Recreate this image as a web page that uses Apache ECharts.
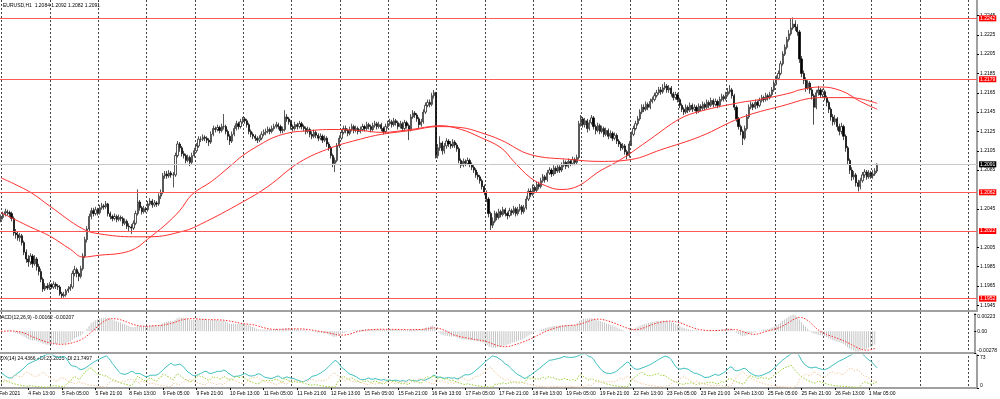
<!DOCTYPE html>
<html><head><meta charset="utf-8">
<script src="https://cdn.jsdelivr.net/npm/echarts@6/dist/echarts.min.js"></script>
<style>html,body{margin:0;padding:0;background:#fff}#c{width:1000px;height:399px}</style>
</head><body><div id="c"></div>
<script>
// ---------- data ----------
const firstOpen = 1.2034;
const closes = [
1.2036,1.2039,1.2042,1.2041,1.2040,1.2035,1.2020,1.2018,1.2015,1.2017,
1.2010,1.2000,1.1993,1.1990,1.1996,1.1988,1.1993,1.1985,1.1980,1.1972,
1.1962,1.1965,1.1963,1.1966,1.1964,1.1967,1.1965,1.1964,1.1957,1.1955,
1.1956,1.1960,1.1962,1.1964,1.1978,1.1982,1.1978,1.1975,1.1983,1.1996,
1.2013,1.2024,1.2037,1.2043,1.2040,1.2044,1.2041,1.2046,1.2048,1.2047,
1.2050,1.2040,1.2037,1.2035,1.2037,1.2034,1.2036,1.2035,1.2030,1.2032,
1.2027,1.2026,1.2025,1.2030,1.2040,1.2052,1.2046,1.2042,1.2045,1.2044,
1.2050,1.2053,1.2049,1.2051,1.2050,1.2058,1.2062,1.2079,1.2081,1.2079,
1.2082,1.2080,1.2080,1.2100,1.2112,1.2108,1.2102,1.2100,1.2095,1.2098,
1.2093,1.2100,1.2105,1.2110,1.2117,1.2117,1.2119,1.2118,1.2116,1.2114,
1.2122,1.2128,1.2127,1.2129,1.2126,1.2130,1.2130,1.2125,1.2120,1.2115,
1.2122,1.2128,1.2133,1.2130,1.2135,1.2138,1.2136,1.2132,1.2125,1.2122,
1.2120,1.2118,1.2116,1.2118,1.2122,1.2124,1.2125,1.2127,1.2125,1.2128,
1.2130,1.2132,1.2130,1.2126,1.2127,1.2140,1.2138,1.2135,1.2130,1.2128,
1.2132,1.2130,1.2133,1.2130,1.2128,1.2125,1.2127,1.2122,1.2120,1.2124,
1.2121,1.2118,1.2120,1.2116,1.2118,1.2112,1.2108,1.2100,1.2092,1.2095,
1.2110,1.2118,1.2124,1.2128,1.2126,1.2123,1.2127,1.2130,1.2126,1.2128,
1.2125,1.2127,1.2130,1.2128,1.2132,1.2130,1.2127,1.2131,1.2133,1.2130,
1.2132,1.2128,1.2125,1.2130,1.2133,1.2135,1.2132,1.2136,1.2134,1.2130,
1.2133,1.2128,1.2134,1.2131,1.2127,1.2140,1.2144,1.2142,1.2138,1.2132,
1.2135,1.2145,1.2152,1.2155,1.2153,1.2162,1.2165,1.2100,1.2108,1.2113,
1.2105,1.2110,1.2115,1.2112,1.2110,1.2114,1.2111,1.2107,1.2095,1.2090,
1.2094,1.2092,1.2095,1.2091,1.2088,1.2085,1.2080,1.2078,1.2074,1.2068,
1.2062,1.2055,1.2040,1.2028,1.2032,1.2040,1.2036,1.2042,1.2039,1.2044,
1.2040,1.2038,1.2043,1.2041,1.2045,1.2040,1.2044,1.2047,1.2042,1.2046,
1.2055,1.2063,1.2060,1.2067,1.2064,1.2070,1.2068,1.2074,1.2078,1.2075,
1.2082,1.2085,1.2081,1.2087,1.2084,1.2088,1.2085,1.2090,1.2093,1.2089,
1.2094,1.2092,1.2096,1.2093,1.2098,1.2133,1.2138,1.2132,1.2136,1.2128,
1.2134,1.2139,1.2130,1.2126,1.2131,1.2125,1.2128,1.2122,1.2126,1.2120,
1.2123,1.2118,1.2121,1.2115,1.2112,1.2108,1.2110,1.2104,1.2100,1.2112,
1.2122,1.2128,1.2133,1.2138,1.2145,1.2150,1.2148,1.2153,1.2150,1.2156,
1.2158,1.2162,1.2165,1.2168,1.2166,1.2170,1.2172,1.2168,1.2170,1.2164,
1.2160,1.2163,1.2158,1.2152,1.2148,1.2145,1.2150,1.2147,1.2152,1.2148,
1.2150,1.2146,1.2151,1.2149,1.2153,1.2150,1.2155,1.2152,1.2157,1.2153,
1.2156,1.2152,1.2158,1.2161,1.2159,1.2163,1.2166,1.2168,1.2162,1.2150,
1.2138,1.2130,1.2125,1.2118,1.2128,1.2140,1.2150,1.2153,1.2150,1.2155,
1.2152,1.2157,1.2160,1.2158,1.2162,1.2160,1.2163,1.2168,1.2175,1.2180,
1.2185,1.2195,1.2205,1.2212,1.2220,1.2226,1.2232,1.2236,1.2233,1.2228,
1.2200,1.2185,1.2178,1.2170,1.2175,1.2168,1.2162,1.2150,1.2165,1.2168,
1.2163,1.2166,1.2160,1.2155,1.2148,1.2140,1.2135,1.2138,1.2130,1.2125,
1.2130,1.2120,1.2108,1.2095,1.2085,1.2078,1.2080,1.2072,1.2068,1.2074,
1.2080,1.2083,1.2078,1.2082,1.2079,1.2081,1.2084,1.2091];
const highs = [
1.2039,1.2042,1.2045,1.2044,1.2043,1.2042,1.2037,1.2024,1.2021,1.2020,
1.2019,1.2012,1.2003,1.1997,1.1999,1.1998,1.1997,1.1995,1.1988,1.1983,
1.1974,1.1968,1.1968,1.1969,1.1968,1.1970,1.1969,1.1967,1.1966,1.1959,
1.1959,1.1962,1.1965,1.1967,1.1981,1.1986,1.1984,1.1980,1.1986,1.1999,
1.2016,1.2027,1.2040,1.2046,1.2046,1.2047,1.2046,1.2049,1.2051,1.2050,
1.2053,1.2051,1.2042,1.2039,1.2040,1.2039,1.2039,1.2038,1.2037,1.2035,
1.2034,1.2030,1.2029,1.2033,1.2043,1.2065,1.2054,1.2048,1.2048,1.2047,
1.2053,1.2056,1.2055,1.2054,1.2053,1.2061,1.2065,1.2082,1.2084,1.2084,
1.2085,1.2084,1.2083,1.2103,1.2115,1.2114,1.2110,1.2105,1.2102,1.2101,
1.2100,1.2103,1.2108,1.2113,1.2120,1.2120,1.2122,1.2121,1.2120,1.2118,
1.2125,1.2131,1.2130,1.2132,1.2131,1.2133,1.2143,1.2132,1.2127,1.2122,
1.2125,1.2131,1.2136,1.2135,1.2138,1.2140,1.2140,1.2138,1.2134,1.2127,
1.2124,1.2122,1.2120,1.2121,1.2125,1.2127,1.2128,1.2130,1.2129,1.2131,
1.2133,1.2135,1.2134,1.2132,1.2130,1.2147,1.2143,1.2140,1.2137,1.2132,
1.2135,1.2134,1.2136,1.2135,1.2132,1.2130,1.2130,1.2129,1.2125,1.2127,
1.2126,1.2123,1.2123,1.2122,1.2121,1.2120,1.2114,1.2110,1.2102,1.2098,
1.2113,1.2121,1.2127,1.2131,1.2131,1.2128,1.2130,1.2133,1.2132,1.2131,
1.2130,1.2130,1.2133,1.2132,1.2135,1.2134,1.2132,1.2134,1.2136,1.2135,
1.2135,1.2134,1.2130,1.2133,1.2136,1.2138,1.2137,1.2139,1.2138,1.2136,
1.2136,1.2135,1.2137,1.2136,1.2133,1.2143,1.2147,1.2146,1.2144,1.2140,
1.2138,1.2148,1.2155,1.2158,1.2158,1.2165,1.2168,1.2166,1.2112,1.2120,
1.2115,1.2113,1.2118,1.2117,1.2115,1.2117,1.2116,1.2113,1.2109,1.2097,
1.2097,1.2096,1.2098,1.2097,1.2093,1.2090,1.2087,1.2083,1.2080,1.2076,
1.2070,1.2064,1.2057,1.2042,1.2036,1.2043,1.2042,1.2045,1.2044,1.2047,
1.2046,1.2042,1.2046,1.2045,1.2048,1.2047,1.2047,1.2050,1.2049,1.2049,
1.2058,1.2066,1.2066,1.2070,1.2069,1.2073,1.2073,1.2077,1.2081,1.2080,
1.2085,1.2088,1.2087,1.2090,1.2089,1.2091,1.2090,1.2093,1.2096,1.2095,
1.2097,1.2096,1.2099,1.2098,1.2101,1.2136,1.2142,1.2140,1.2139,1.2138,
1.2137,1.2142,1.2141,1.2132,1.2134,1.2133,1.2131,1.2130,1.2129,1.2128,
1.2126,1.2125,1.2124,1.2123,1.2117,1.2114,1.2113,1.2112,1.2106,1.2115,
1.2125,1.2131,1.2136,1.2141,1.2148,1.2153,1.2153,1.2156,1.2155,1.2159,
1.2161,1.2165,1.2168,1.2171,1.2171,1.2174,1.2176,1.2174,1.2173,1.2172,
1.2166,1.2166,1.2165,1.2160,1.2154,1.2150,1.2153,1.2152,1.2155,1.2154,
1.2153,1.2152,1.2154,1.2153,1.2156,1.2155,1.2158,1.2157,1.2160,1.2159,
1.2159,1.2158,1.2161,1.2164,1.2163,1.2166,1.2170,1.2173,1.2170,1.2164,
1.2152,1.2140,1.2132,1.2127,1.2131,1.2143,1.2153,1.2156,1.2155,1.2158,
1.2157,1.2160,1.2163,1.2162,1.2165,1.2164,1.2166,1.2171,1.2178,1.2183,
1.2188,1.2198,1.2208,1.2215,1.2223,1.2230,1.2242,1.2243,1.2240,1.2236,
1.2230,1.2203,1.2188,1.2181,1.2178,1.2177,1.2170,1.2164,1.2168,1.2172,
1.2170,1.2169,1.2168,1.2162,1.2157,1.2150,1.2143,1.2142,1.2140,1.2133,
1.2134,1.2132,1.2122,1.2110,1.2097,1.2088,1.2084,1.2082,1.2075,1.2077,
1.2083,1.2086,1.2085,1.2085,1.2084,1.2085,1.2087,1.2092];
const lows = [
1.2031,1.2034,1.2037,1.2038,1.2036,1.2032,1.2017,1.2014,1.2012,1.2011,
1.2007,1.1997,1.1989,1.1985,1.1987,1.1984,1.1986,1.1981,1.1976,1.1969,
1.1959,1.1960,1.1961,1.1961,1.1962,1.1962,1.1962,1.1961,1.1955,1.1952,
1.1953,1.1954,1.1958,1.1960,1.1962,1.1975,1.1974,1.1970,1.1973,1.1981,
1.1994,1.2010,1.2021,1.2034,1.2037,1.2038,1.2038,1.2039,1.2044,1.2044,
1.2045,1.2037,1.2034,1.2032,1.2033,1.2031,1.2032,1.2032,1.2027,1.2028,
1.2024,1.2022,1.2019,1.2023,1.2028,1.2038,1.2043,1.2039,1.2040,1.2041,
1.2042,1.2048,1.2046,1.2047,1.2047,1.2048,1.2055,1.2060,1.2076,1.2076,
1.2077,1.2077,1.2067,1.2078,1.2098,1.2104,1.2099,1.2097,1.2092,1.2093,
1.2089,1.2091,1.2098,1.2103,1.2108,1.2114,1.2115,1.2115,1.2113,1.2110,
1.2112,1.2120,1.2124,1.2125,1.2123,1.2124,1.2127,1.2122,1.2116,1.2111,
1.2113,1.2120,1.2126,1.2127,1.2128,1.2133,1.2133,1.2129,1.2122,1.2119,
1.2117,1.2115,1.2113,1.2114,1.2116,1.2120,1.2121,1.2123,1.2122,1.2123,
1.2126,1.2128,1.2127,1.2123,1.2123,1.2125,1.2135,1.2132,1.2127,1.2125,
1.2126,1.2127,1.2128,1.2127,1.2125,1.2122,1.2123,1.2119,1.2117,1.2118,
1.2118,1.2115,1.2116,1.2113,1.2114,1.2109,1.2105,1.2097,1.2088,1.2083,
1.2093,1.2108,1.2116,1.2122,1.2123,1.2120,1.2121,1.2125,1.2123,1.2124,
1.2122,1.2123,1.2125,1.2125,1.2126,1.2127,1.2124,1.2125,1.2129,1.2127,
1.2128,1.2125,1.2122,1.2123,1.2128,1.2131,1.2129,1.2130,1.2131,1.2127,
1.2128,1.2125,1.2126,1.2128,1.2116,1.2125,1.2138,1.2139,1.2135,1.2128,
1.2130,1.2133,1.2143,1.2150,1.2150,1.2151,1.2159,1.2097,1.2097,1.2105,
1.2101,1.2102,1.2107,1.2109,1.2107,1.2108,1.2108,1.2104,1.2092,1.2087,
1.2088,1.2089,1.2090,1.2088,1.2085,1.2082,1.2077,1.2075,1.2071,1.2065,
1.2059,1.2052,1.2036,1.2023,1.2025,1.2030,1.2033,1.2034,1.2036,1.2037,
1.2037,1.2034,1.2036,1.2038,1.2039,1.2037,1.2038,1.2042,1.2039,1.2040,
1.2044,1.2053,1.2057,1.2058,1.2061,1.2062,1.2065,1.2066,1.2072,1.2072,
1.2073,1.2080,1.2078,1.2079,1.2081,1.2082,1.2082,1.2083,1.2088,1.2086,
1.2087,1.2089,1.2090,1.2090,1.2091,1.2096,1.2130,1.2129,1.2129,1.2124,
1.2126,1.2132,1.2127,1.2122,1.2124,1.2122,1.2123,1.2119,1.2120,1.2117,
1.2118,1.2115,1.2116,1.2112,1.2109,1.2105,1.2106,1.2101,1.2096,1.2098,
1.2110,1.2120,1.2126,1.2131,1.2136,1.2143,1.2145,1.2146,1.2147,1.2148,
1.2154,1.2156,1.2160,1.2163,1.2163,1.2164,1.2168,1.2165,1.2165,1.2161,
1.2157,1.2158,1.2155,1.2149,1.2145,1.2142,1.2143,1.2144,1.2145,1.2145,
1.2146,1.2143,1.2144,1.2146,1.2147,1.2147,1.2148,1.2149,1.2150,1.2150,
1.2151,1.2149,1.2150,1.2156,1.2156,1.2157,1.2161,1.2164,1.2159,1.2147,
1.2135,1.2127,1.2121,1.2111,1.2116,1.2126,1.2138,1.2148,1.2147,1.2148,
1.2149,1.2150,1.2155,1.2155,1.2156,1.2157,1.2158,1.2161,1.2166,1.2173,
1.2178,1.2183,1.2193,1.2203,1.2210,1.2218,1.2224,1.2230,1.2229,1.2224,
1.2196,1.2181,1.2174,1.2166,1.2168,1.2164,1.2158,1.2132,1.2148,1.2162,
1.2160,1.2160,1.2157,1.2151,1.2144,1.2136,1.2131,1.2132,1.2126,1.2121,
1.2122,1.2116,1.2104,1.2091,1.2081,1.2074,1.2075,1.2068,1.2063,1.2065,
1.2072,1.2077,1.2075,1.2076,1.2076,1.2076,1.2079,1.2082];

// moving averages: [bar index, value]
const maFast = [[0,1.2041],[14,1.2026],[23,1.2017],[33,1.2003],[39,1.1995],[47,1.1997],[57,1.1999],[64,1.2004],[70,1.2014],[78,1.2028],[85,1.2043],[91,1.2060],[100,1.2073],[109,1.2089],[115,1.2100],[123,1.2111],[130,1.2119],[138,1.2124],[142,1.2125],[157,1.2127],[171,1.2126],[181,1.2124],[195,1.2127],[204,1.2130],[209,1.2131],[219,1.2127],[228,1.2119],[238,1.2108],[244,1.2094],[252,1.2077],[259,1.2069],[266,1.2065],[273,1.2067],[285,1.2084],[295,1.2096],[309,1.2117],[323,1.2138],[333,1.2146],[352,1.2155],[361,1.2158],[376,1.2165],[380,1.2168],[390,1.2171],[400,1.2167],[409,1.2156],[417,1.2148]];
const maSlow = [[0,1.2077],[14,1.2062],[23,1.2048],[39,1.2024],[47,1.2019],[63,1.2016],[71,1.2016],[87,1.2022],[95,1.2029],[115,1.2052],[127,1.2068],[142,1.2093],[157,1.2108],[171,1.2117],[181,1.2122],[195,1.2126],[208,1.2130],[219,1.2129],[228,1.2124],[238,1.2116],[252,1.2101],[271,1.2096],[285,1.2094],[300,1.2096],[314,1.2106],[333,1.2120],[352,1.2139],[371,1.2151],[390,1.2160],[404,1.2160],[417,1.2154]];

// indicator starting states read at the left edge (warm-up seeds)
const adxSeed = { adx: 33, plusDi: 12, minusDi: 25 };

const levels = [1.2242, 1.2179, 1.2062, 1.2022, 1.1952];
const bidPrice = 1.2091;
const priceTicks = [1.1945,1.1965,1.1985,1.2005,1.2045,1.2085,1.2105,1.2125,1.2145,1.2165,1.2185,1.2205,1.2225,1.2245];
const macdRange = [-0.00278, 0.00223];
const adxRange = [0, 73];
const timeLabels = ["4 Feb 13:00","5 Feb 05:00","5 Feb 21:00","8 Feb 13:00","9 Feb 05:00","9 Feb 21:00","10 Feb 13:00","11 Feb 05:00","11 Feb 21:00","12 Feb 13:00","15 Feb 05:00","15 Feb 21:00","16 Feb 13:00","17 Feb 05:00","17 Feb 21:00","18 Feb 13:00","19 Feb 05:00","19 Feb 21:00","22 Feb 13:00","23 Feb 05:00","23 Feb 21:00","24 Feb 13:00","25 Feb 05:00","25 Feb 21:00","26 Feb 13:00","1 Mar 05:00"];
const firstDateLabel = "4 Feb 2021";
const headerText = "EURUSD,H1  1.2084 1.2092 1.2082 1.2091";
const macdText = "MACD(12,26,9) -0.00162 -0.00207";
const adxText = "ADX(14) 24.4366 +DI:23.2035 -DI:21.7497";

// ---------- build tables ----------
const SLOTS = 465; // bars + empty right margin (chart shift)
const MONTHS = ["Jan","Feb","Mar"];
const cats = [];
{
  let t = Date.UTC(2021, 1, 4, 0);
  while (cats.length < SLOTS) {
    const d = new Date(t);
    const wd = d.getUTCDay();
    if (wd !== 0 && wd !== 6) {
      cats.push(d.getUTCDate() + " " + MONTHS[d.getUTCMonth()] + " " + String(d.getUTCHours()).padStart(2, "0") + ":00");
    }
    t += 3600000;
  }
}
const candles = closes.map((c, i) => [i === 0 ? firstOpen : closes[i - 1], c, lows[i], highs[i]]);

const ema = (a, p, seed) => { const k = 2 / (p + 1); let e = seed === undefined ? a[0] : seed; return a.map((v, i) => (e = (i || seed !== undefined) ? v * k + e * (1 - k) : v)); };
const e12 = ema(closes, 12), e26 = ema(closes, 26);
const macd = closes.map((_, i) => e12[i] - e26[i]);
const signal = macd.map((_, i) => { const w = macd.slice(Math.max(0, i - 8), i + 1); return w.reduce((a, b) => a + b, 0) / w.length; });

const pdRaw = [], mdRaw = [];
for (let i = 0; i < closes.length; i++) {
  const ph = i ? highs[i - 1] : highs[i], pl = i ? lows[i - 1] : lows[i], pc = i ? closes[i - 1] : firstOpen;
  let pdm = highs[i] - ph, mdm = pl - lows[i];
  if (pdm < 0) pdm = 0; if (mdm < 0) mdm = 0;
  if (pdm === mdm) { pdm = 0; mdm = 0; } else if (pdm < mdm) pdm = 0; else mdm = 0;
  const tr = Math.max(highs[i] - lows[i], Math.abs(highs[i] - pc), Math.abs(lows[i] - pc));
  pdRaw.push(tr ? 100 * pdm / tr : 0); mdRaw.push(tr ? 100 * mdm / tr : 0);
}
const pdi = ema(pdRaw, 14, adxSeed.plusDi), mdi = ema(mdRaw, 14, adxSeed.minusDi);
const dx = pdi.map((p, i) => (p + mdi[i]) ? 100 * Math.abs(p - mdi[i]) / (p + mdi[i]) : 0);
const adx = ema(dx, 14, adxSeed.adx);

// ---------- chart ----------
const FONT = "Liberation Sans";
const AX = "#a0a0a0";
const labelShown = (i) => timeLabels.indexOf(cats[i]) >= 0;
const catAxis = (gi, showLabels) => ({
  type: "category", gridIndex: gi, data: cats, boundaryGap: true,
  axisLine: { show: true, onZero: false, lineStyle: { color: AX, width: 2 } },
  axisTick: showLabels ? { show: true, alignWithLabel: true, interval: labelShown, length: 2, lineStyle: { color: "#000" } } : { show: false },
  axisLabel: showLabels ? { show: true, interval: labelShown, align: "left", margin: 3, fontSize: 5, fontFamily: FONT, color: "#000" } : { show: false },
  splitLine: { show: false }
});
const edgeRich = {
  top: { padding: [5, 0, 0, 0], fontSize: 5, fontFamily: FONT, color: "#000" },
  bot: { padding: [0, 0, 5, 0], fontSize: 5, fontFamily: FONT, color: "#000" },
  mid: { fontSize: 5, fontFamily: FONT, color: "#000" }
};
const valAxis = (gi, min, max, ticks, fmt) => ({
  type: "value", gridIndex: gi, position: "right", min: min, max: max,
  axisLine: { show: true, onZero: false, lineStyle: { color: AX, width: 2 } },
  axisTick: { show: true, customValues: ticks, length: 2, lineStyle: { color: "#000" } },
  axisLabel: { show: true, customValues: ticks, formatter: fmt, margin: 3, fontSize: 5, fontFamily: FONT, color: "#000", rich: edgeRich },
  splitLine: { show: false }
});
const edgeFmt = (range, text) => v => v === range[1] ? "{top|" + text(v) + "}" : v === range[0] ? "{bot|" + text(v) + "}" : "{mid|" + text(v) + "}";

const chart = echarts.init(document.getElementById("c"), null, { renderer: "canvas" });
chart.setOption({
  animation: false,
  backgroundColor: "#ffffff",
  grid: [
    { left: 0, top: 0, width: 977, height: 311 },
    { left: 0, top: 314, width: 977, height: 39 },
    { left: 0, top: 355, width: 977, height: 33 },
    { left: 1.7, top: 0, width: 975.3, height: 388 }
  ],
  xAxis: [
    catAxis(0, false), catAxis(1, false), catAxis(2, true),
    { type: "value", gridIndex: 3, min: 0, max: 464.19, interval: 23,
      axisLine: { show: false }, axisTick: { show: false }, axisLabel: { show: false },
      splitLine: { show: true, showMaxLine: false, lineStyle: { color: "#444", width: 1, type: [2, 2] } } }
  ],
  yAxis: [
    valAxis(0, 1.19392, 1.22610, priceTicks, v => v.toFixed(4)),
    valAxis(1, macdRange[0], macdRange[1], [macdRange[1], 0, macdRange[0]], edgeFmt(macdRange, v => v === 0 ? "0.00" : v.toFixed(5))),
    valAxis(2, adxRange[0], adxRange[1], [adxRange[1], adxRange[0]], edgeFmt(adxRange, v => String(v))),
    { type: "value", gridIndex: 3, show: false, min: 0, max: 1 }
  ],
  graphic: [
    { type: "text", left: 3, top: 3, style: { text: headerText, font: "5px '" + FONT + "'", fill: "#000" } },
    { type: "text", left: -3, top: 315, style: { text: macdText, font: "5px '" + FONT + "'", fill: "#000" } },
    { type: "text", left: -3, top: 356, style: { text: adxText, font: "5px '" + FONT + "'", fill: "#000" } },
    { type: "text", left: -5, top: 391, style: { text: firstDateLabel, font: "5px '" + FONT + "'", fill: "#000" } }
  ],
  series: [
    { type: "candlestick", xAxisIndex: 0, yAxisIndex: 0, data: candles, barWidth: 1.7, clip: true,
      itemStyle: { color: "#ffffff", color0: "#000000", borderColor: "#111111", borderColor0: "#000000", borderWidth: 0.7 },
      markLine: {
        silent: true, symbol: "none", precision: 5, animation: false,
        data: levels.map(v => ({ yAxis: v, lineStyle: { color: "#ff5a5a", width: 1, type: "solid" },
          label: { show: true, position: "end", distance: 2, formatter: () => v.toFixed(4), color: "#fff", backgroundColor: "#ff0000", fontSize: 5, fontFamily: FONT, padding: [1, 1, 0, 1] } }))
          .concat([{ yAxis: bidPrice, lineStyle: { color: "#c8c8c8", width: 1, type: "solid" },
          label: { show: true, position: "end", distance: 2, formatter: () => bidPrice.toFixed(4), color: "#fff", backgroundColor: "#000000", fontSize: 5, fontFamily: FONT, padding: [1, 1, 0, 1] } }])
      } },
    { type: "line", xAxisIndex: 0, yAxisIndex: 0, data: maFast, smooth: 0.4, showSymbol: false, lineStyle: { color: "#ff3030", width: 1 }, z: 3 },
    { type: "line", xAxisIndex: 0, yAxisIndex: 0, data: maSlow, smooth: 0.4, showSymbol: false, lineStyle: { color: "#ff3030", width: 1 }, z: 3 },
    { type: "bar", xAxisIndex: 1, yAxisIndex: 1, data: macd, barWidth: 1, itemStyle: { color: "#c4c4c4" } },
    { type: "line", xAxisIndex: 1, yAxisIndex: 1, data: signal, showSymbol: false, lineStyle: { color: "#ff2a2a", width: 1, type: [1.5, 1.5] } },
    { type: "line", xAxisIndex: 2, yAxisIndex: 2, data: adx, showSymbol: false, lineStyle: { color: "#3cbdbd", width: 1 } },
    { type: "line", xAxisIndex: 2, yAxisIndex: 2, data: pdi, showSymbol: false, lineStyle: { color: "#9acd32", width: 1, type: [1.5, 1.5] } },
    { type: "line", xAxisIndex: 2, yAxisIndex: 2, data: mdi, showSymbol: false, lineStyle: { color: "#f0c8a0", width: 1, type: [1.5, 1.5] } }
  ]
});
</script>
</body></html>
